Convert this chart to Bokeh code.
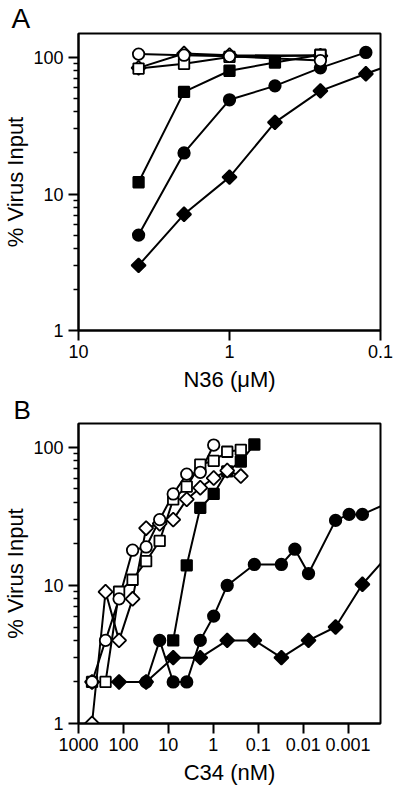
import numpy as np
from bokeh.plotting import figure
from bokeh.models import Range1d, FixedTicker, CustomJSTickFormatter, Title
from bokeh.layouts import column
from bokeh.embed import file_html
from bokeh.resources import INLINE

FONT = "Liberation Sans"

# ---------------- Panel A : N36 (uM) ----------------
a_xticks = [10, 1, 0.1]
a_yticks = [1, 10, 100]

a_open_circle_x = [4, 2, 1, 0.25]
a_open_circle_y = [106, 104, 102, 95]
a_open_square_x = [4, 2, 1, 0.25]
a_open_square_y = [83, 90, 101, 104]
a_open_diamond_x = [4, 2, 1, 0.25]
a_open_diamond_y = [84, 107, 104, 103]
a_fill_square_x = [4, 2, 1, 0.5, 0.25]
a_fill_square_y = [12.2, 56, 80, 92, 105]
a_fill_circle_x = [4, 2, 1, 0.5, 0.25, 0.125]
a_fill_circle_y = [5.0, 20, 49, 62, 84, 109]
a_fill_diamond_x = [4, 2, 1, 0.5, 0.25, 0.125, 0.0625]
a_fill_diamond_y = [3.0, 7.1, 13.3, 33.5, 57, 76, 100]

# ---------------- Panel B : C34 (nM) ----------------
b_xticks = [1000, 100, 10, 1, 0.1, 0.01, 0.001]
b_yticks = [1, 10, 100]

b_open_circle_x = [500, 250, 125, 62.5, 31.25, 15.6, 7.8, 3.9, 1.95, 0.98]
b_open_circle_y = [2, 4, 8, 18, 19, 30, 46, 64, 66, 104]
b_open_square_x = [500, 250, 125, 62.5, 31.25, 15.6, 7.8, 3.9, 1.95, 0.98, 0.49, 0.244]
b_open_square_y = [2, 2, 9, 11, 15, 21, 42, 52, 75, 80, 93, 96]
b_open_diamond_x = [500, 250, 125, 62.5, 31.25, 15.6, 7.8, 3.9, 1.95, 0.98, 0.49, 0.244]
b_open_diamond_y = [1, 9, 4, 8, 26, 28, 30, 42, 51, 60, 68, 62]
b_fill_square_x = [7.8, 3.9, 1.95, 0.98, 0.49, 0.244, 0.122]
b_fill_square_y = [4, 14, 36.5, 46, 67, 79, 105]
b_fill_circle_x = [31.25, 15.6, 7.8, 3.9, 1.95, 0.98, 0.49, 0.122, 0.0305, 0.0153,
                   0.0076, 0.0019, 0.00095, 0.00048, 0.00012]
b_fill_circle_y = [2, 4, 2, 2, 4, 6, 10, 14.2, 14.2, 18.3, 12.2, 29.6, 32.7, 32.7, 40]
b_fill_diamond_x = [500, 125, 31.25, 7.8, 1.95, 0.49, 0.122, 0.0305, 0.0076, 0.0019,
                    0.00048, 0.00012]
b_fill_diamond_y = [2, 2, 2, 3, 3, 4, 4, 3, 4, 5, 10.2, 17]

fmt = CustomJSTickFormatter(code="return tick.toString();")


def make_fig(width, height, xr, yr, left, right, top, bottom, xticks, yticks, xlabel,
             letter, letter_size, letter_offset, letter_standoff):
    title = Title(text=letter, align="left", offset=letter_offset, standoff=letter_standoff,
                  text_font=FONT, text_font_size=letter_size, text_font_style="normal",
                  text_color="black")
    p = figure(width=width, height=height, x_axis_type="log", y_axis_type="log",
               x_range=Range1d(*xr), y_range=Range1d(*yr), title=title,
               output_backend="svg", toolbar_location=None,
               min_border_left=left, min_border_right=right,
               min_border_top=top, min_border_bottom=bottom)
    p.grid.visible = False
    p.outline_line_color = "black"
    p.outline_line_width = 2
    p.background_fill_color = "white"
    p.border_fill_color = "white"

    p.xaxis.ticker = FixedTicker(ticks=xticks, minor_ticks=[])
    minors = [m * d for d in [1, 10] for m in range(2, 10)]
    p.yaxis.ticker = FixedTicker(ticks=yticks, minor_ticks=minors)
    for ax in (p.xaxis[0], p.yaxis[0]):
        ax.formatter = fmt
        ax.axis_line_width = 2
        ax.axis_line_color = "black"
        ax.major_tick_line_width = 2
        ax.major_tick_line_color = "black"
        ax.major_tick_in = 0
        ax.major_tick_out = 10
        ax.minor_tick_in = 0
        ax.minor_tick_out = 5
        ax.minor_tick_line_width = 1.5
        ax.minor_tick_line_color = "black"
        ax.major_label_text_font = FONT
        ax.major_label_text_font_size = "18px"
        ax.major_label_text_color = "black"
        ax.axis_label_text_font = FONT
        ax.axis_label_text_font_size = "22px"
        ax.axis_label_text_font_style = "normal"
        ax.axis_label_text_color = "black"
    p.xaxis.major_label_standoff = 4
    p.xaxis.axis_label_standoff = 6
    p.yaxis.major_label_standoff = 5
    p.yaxis.axis_label_standoff = 2
    p.xaxis.axis_label = xlabel
    p.yaxis.axis_label = "% Virus Input"
    return p


def draw_series(p, series):
    for xs, ys, kind, filled in series:
        p.line(xs, ys, line_color="black", line_width=2)
    for xs, ys, kind, filled in series:
        fill = "black" if filled else "white"
        if kind == "circle":
            p.scatter(xs, ys, marker="circle", size=11.5, fill_color=fill,
                      line_color="black", line_width=1.8)
        elif kind == "square":
            p.scatter(xs, ys, marker="square", size=10.5, fill_color=fill,
                      line_color="black", line_width=1.8)
        else:
            p.scatter(xs, ys, marker="square", angle=np.pi / 4, size=10, fill_color=fill,
                      line_color="black", line_width=1.8)


# Panel A: frame 77..380 x 33..332 (figure 400 x 394)
pA = make_fig(400, 394, (10, 0.1), (1, 150), 77, 20, 33, 62,
              a_xticks, a_yticks, "N36 (\u03bcM)", "A", "28px", -67, 0)
draw_series(pA, [
    (a_fill_diamond_x, a_fill_diamond_y, "diamond", True),
    (a_fill_circle_x, a_fill_circle_y, "circle", True),
    (a_fill_square_x, a_fill_square_y, "square", True),
    (a_open_diamond_x, a_open_diamond_y, "diamond", False),
    (a_open_square_x, a_open_square_y, "square", False),
    (a_open_circle_x, a_open_circle_y, "circle", False),
])

# Panel B: frame 75..382 x 422..723 (figure 400 x 400, starting at 394)
pB = make_fig(400, 400, (1000, 1.9e-4), (1, 149), 75, 18, 28, 71,
              b_xticks, b_yticks, "C34 (nM)", "B", "26px", -65, -3)
draw_series(pB, [
    (b_fill_diamond_x, b_fill_diamond_y, "diamond", True),
    (b_fill_circle_x, b_fill_circle_y, "circle", True),
    (b_fill_square_x, b_fill_square_y, "square", True),
    (b_open_diamond_x, b_open_diamond_y, "diamond", False),
    (b_open_square_x, b_open_square_y, "square", False),
    (b_open_circle_x, b_open_circle_y, "circle", False),
])

layout = column(pA, pB)
open("out.html", "w").write(file_html(layout, INLINE))
